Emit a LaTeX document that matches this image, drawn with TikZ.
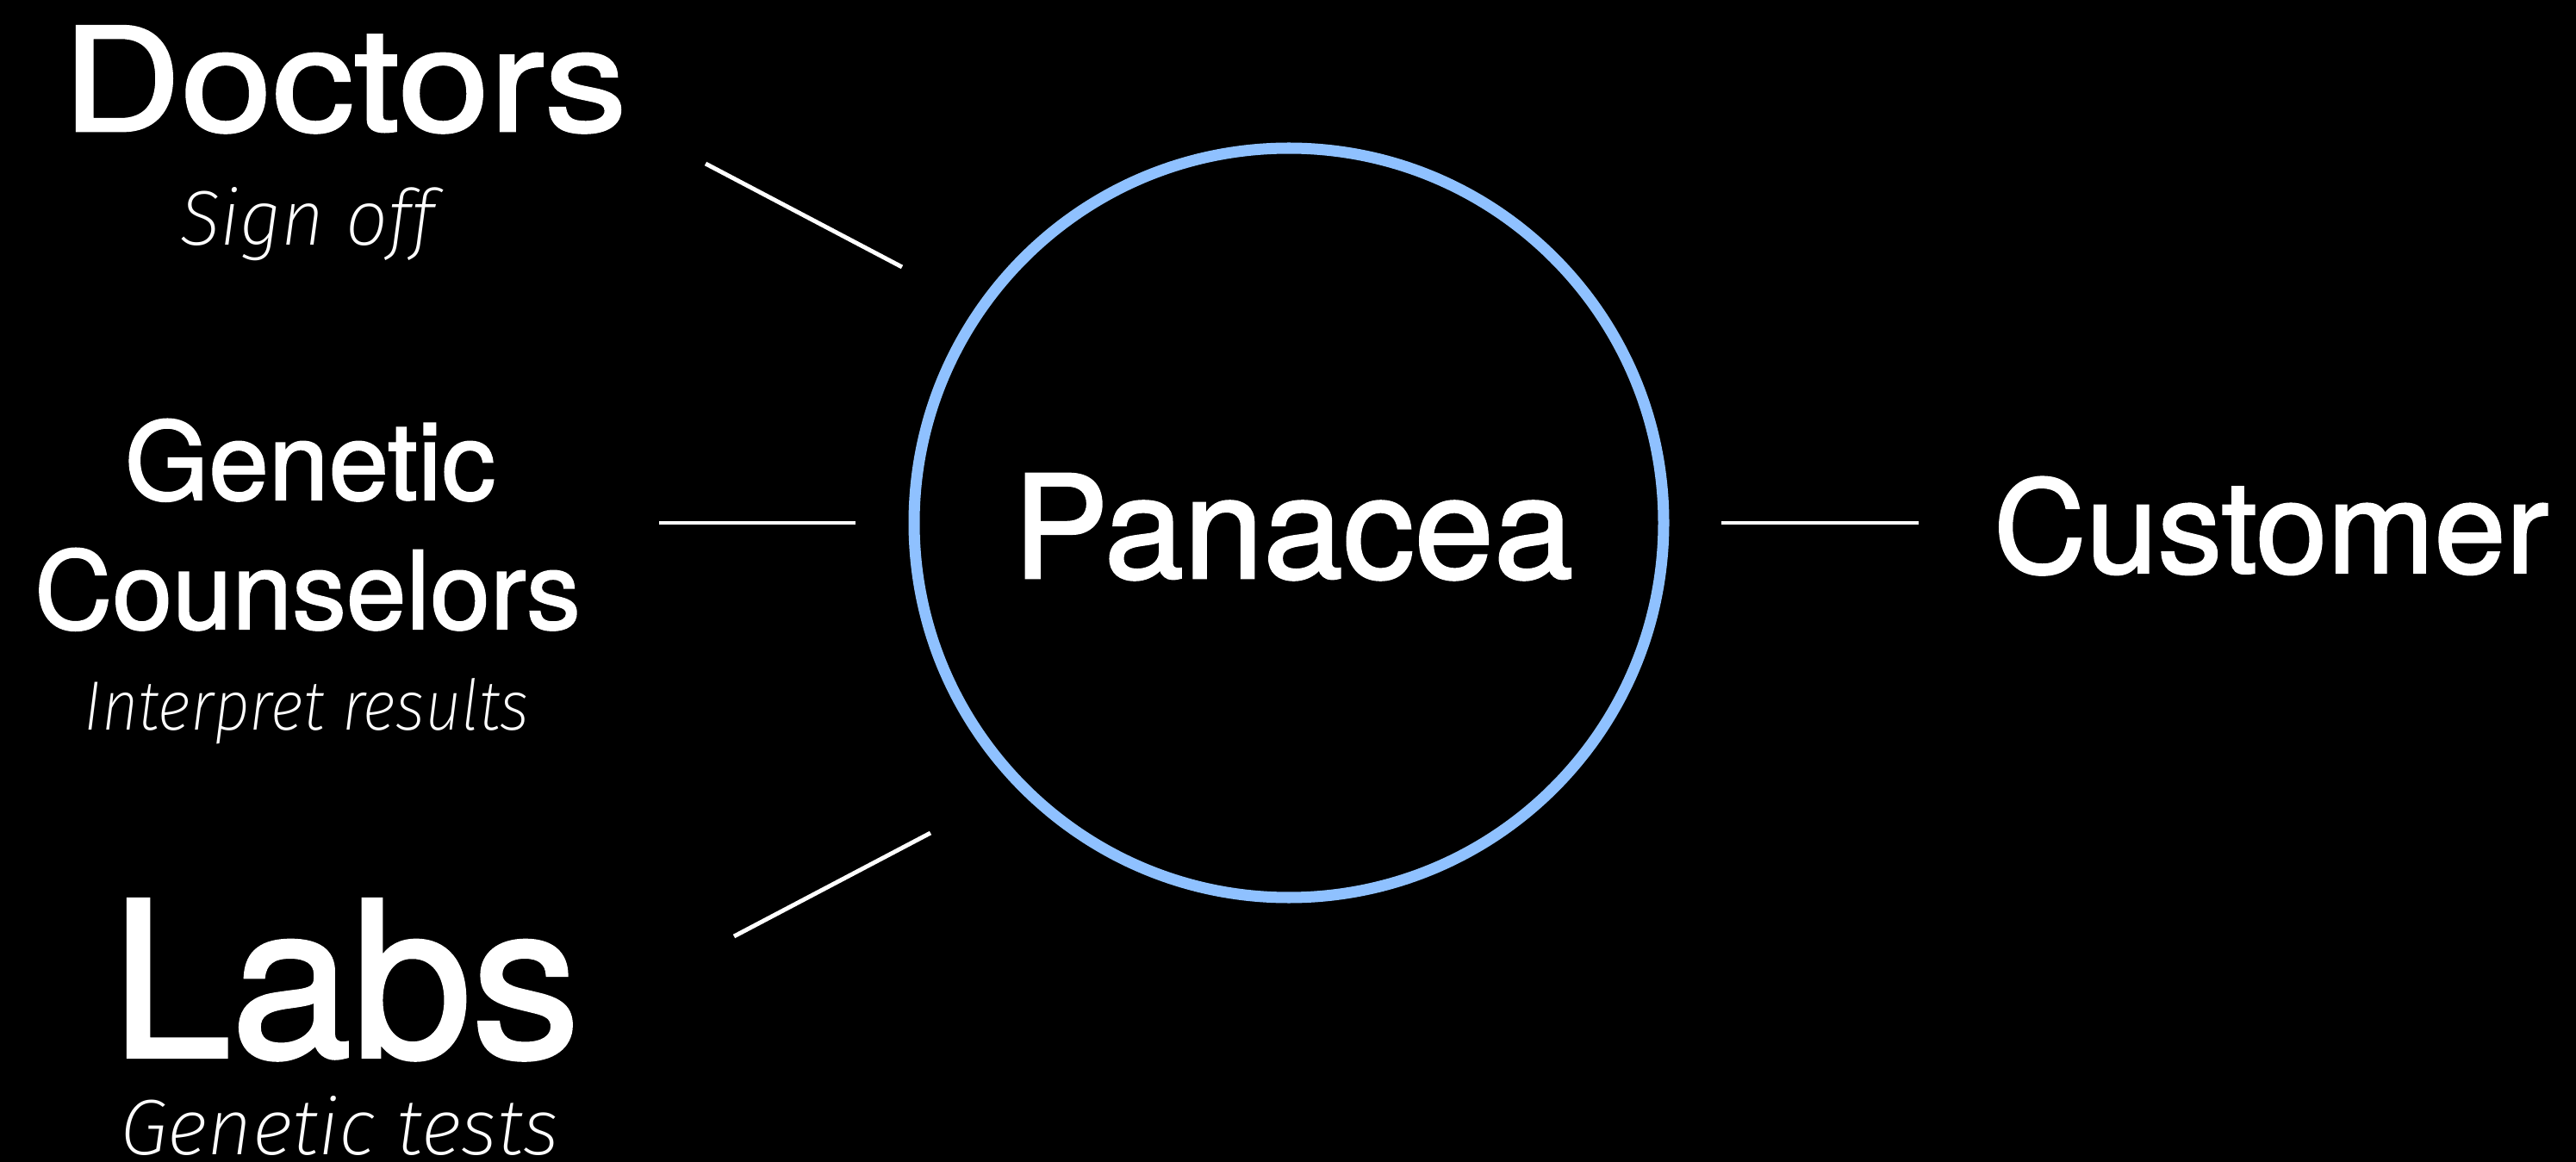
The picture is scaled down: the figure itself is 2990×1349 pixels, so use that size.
\documentclass[tikz,border=0pt]{standalone}
\usepackage{fontspec}
\setmainfont{TeX Gyre Heros}
\newfontfamily\medfont{TeX Gyre Heros}[FakeBold=1.6]
\IfFontExistsTF{Fira Sans ExtraLight Italic}
  {\newfontfamily\thinit{Fira Sans ExtraLight Italic}}
  {\newfontfamily\thinit{TeX Gyre Heros Italic}}
\definecolor{ringblue}{RGB}{143,193,255}
\newcommand{\subtxt}[3]{\resizebox{#1}{#2}{\thinit #3}}
\tikzset{
  lbl/.style={text=white, inner sep=0pt, anchor=base},
  sub/.style={text=white, inner sep=0pt, anchor=base},
  link/.style={draw=white, line width=1.4pt},
}
\begin{document}
\begin{tikzpicture}[x=0.01cm,y=-0.01cm]
\fill[black] (0,0) rectangle (2990,1349);
\useasboundingbox (0,0) rectangle (2990,1349);
% central circle
\draw[ringblue, line width=3.7pt] (1496,607) circle[radius=435];
\node[lbl, font=\medfont\fontsize{47.2pt}{50pt}\selectfont] (panacea) at (1501,671) {Panacea};
% left side
\node[lbl, font=\medfont\fontsize{47.5pt}{50pt}\selectfont] (doctors) at (400,152) {\scalebox{1.14}[1]{Doctors}};
\node[sub] (signoff) at (357,285) {\subtxt{2.95cm}{0.67cm}{Sign off}};
\node[lbl, font=\medfont\fontsize{35.6pt}{40pt}\selectfont] (genetic) at (360,580) {Genetic};
\node[lbl, font=\medfont\fontsize{35.6pt}{40pt}\selectfont] (counselors) at (357,730) {Counselors};
\node[sub] (interpret) at (356,847) {\subtxt{5.16cm}{0.60cm}{Interpret results}};
\node[lbl, font=\medfont\fontsize{71.4pt}{75pt}\selectfont] (labs) at (401,1227) {Labs};
\node[sub] (tests) at (394,1340) {\subtxt{5.09cm}{0.68cm}{Genetic tests}};
% right side
\node[lbl, font=\medfont\fontsize{42.4pt}{45pt}\selectfont] (customer) at (2636,665) {Customer};
% connector end points
\coordinate (d1) at (819,190);
\coordinate (d2) at (1047,310);
\coordinate (g1) at (765,607);
\coordinate (g2) at (993,607);
\coordinate (l1) at (852,1087);
\coordinate (l2) at (1080,967);
\coordinate (c1) at (1998,607);
\coordinate (c2) at (2227,607);
\draw[link] (d1) -- (d2);
\draw[link] (g1) -- (g2);
\draw[link] (l1) -- (l2);
\draw[link] (c1) -- (c2);
\end{tikzpicture}
\end{document}
